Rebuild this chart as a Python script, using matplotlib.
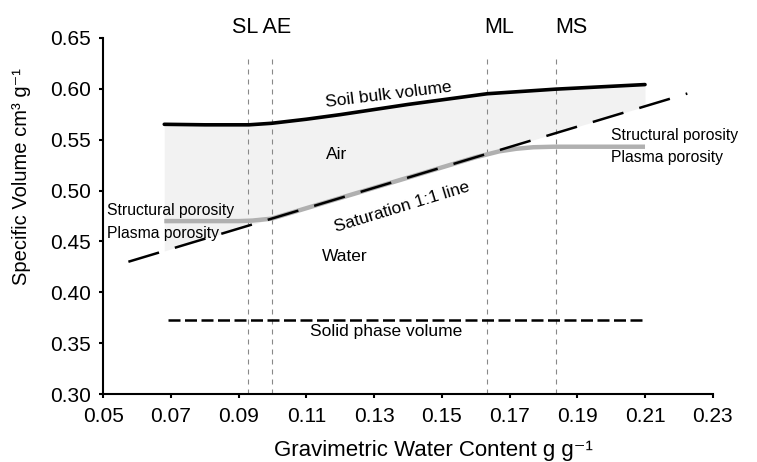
import numpy as np
import matplotlib
matplotlib.use("Agg")
import matplotlib.pyplot as plt

plt.rcParams['font.family'] = ['Liberation Sans', 'DejaVu Sans']

# 土の体積 (Soil bulk volume)
bulk_x = [0.068, 0.080, 0.093, 0.0997, 0.110, 0.120, 0.130, 0.140, 0.150, 0.1634, 0.1836, 0.210]
bulk_y = [0.5650, 0.5645, 0.5645, 0.5660, 0.5700, 0.5745, 0.5795, 0.5845, 0.5890, 0.5950, 0.5995, 0.6040]

# 固相体積
solid_volume = 0.3727
solid_x = [0.069, 0.2095]

# 飽和線 1:1
sat_x = [0.0574, 0.2225]

# 構造間隙 / プラズマ間隙の境界
pore_x = [0.068, 0.090, 0.094, 0.097, 0.0997, 0.120, 0.150, 0.160, 0.1634, 0.167, 0.172, 0.177, 0.183, 0.210]
pore_y = [0.4700, 0.4700, 0.4705, 0.4715, 0.4724, 0.4927, 0.5227, 0.5327, 0.5355, 0.5385, 0.5410, 0.5425, 0.5430, 0.5430]

# 特性点
marks = ['SL AE', 'ML', 'MS']
mark_label_x = [0.0967, 0.1669, 0.1883]
mark_x = [0.0926, 0.0997, 0.1634, 0.1836]

fig = plt.figure(figsize=(7.57, 4.62), dpi=100)
ax = fig.add_axes([0.1365, 0.1465, 0.805, 0.7719])

# 空気の領域 (bulk と飽和線の間)
fill_x = np.array(bulk_x)
ax.fill_between(fill_x, bulk_y, fill_x + solid_volume, color='#f2f2f2', lw=0, zorder=1)

# 特性点の縦線
for xv in mark_x:
    ax.plot([xv, xv], [0.30, 0.633], color='#888888', lw=0.8, dashes=(4.5, 4.5), zorder=2)

ax.plot(pore_x, pore_y, color='#b0b0b0', lw=3.2, solid_capstyle='butt', zorder=3)
sat_x = np.array(sat_x)
ax.plot(sat_x, sat_x + solid_volume, color='black', lw=1.8, dashes=(12.8, 6.6), zorder=4)
ax.plot(bulk_x, bulk_y, color='black', lw=2.6, solid_capstyle='round', zorder=5)
ax.plot(solid_x, [solid_volume, solid_volume], color='black', lw=1.8, dashes=(4.8, 1.8), zorder=4)

# ラベル
for name, xv in zip(marks, mark_label_x):
    ax.text(xv, 0.660, name, ha='center', va='center', fontsize=15.5, clip_on=False)

ax.text(0.1342, 0.5937, 'Soil bulk volume', ha='center', va='center', rotation=7, fontsize=12.5)
ax.text(0.1189, 0.535, 'Air', ha='center', va='center', fontsize=12.5)
ax.text(0.1383, 0.4837, 'Saturation 1:1 line', ha='center', va='center', rotation=17, fontsize=12.5)
ax.text(0.1214, 0.4355, 'Water', ha='center', va='center', fontsize=12.5)
ax.text(0.1334, 0.3615, 'Solid phase volume', ha='center', va='center', fontsize=12.5)

ax.text(0.0511, 0.4800, 'Structural porosity', ha='left', va='center', fontsize=11.3)
ax.text(0.0511, 0.4580, 'Plasma porosity', ha='left', va='center', fontsize=11.3)
ax.text(0.2000, 0.5545, 'Structural porosity', ha='left', va='center', fontsize=11.3, clip_on=False)
ax.text(0.2000, 0.5320, 'Plasma porosity', ha='left', va='center', fontsize=11.3, clip_on=False)

ax.set_xlim(0.05, 0.23)
ax.set_ylim(0.30, 0.65)
ax.set_xticks(np.arange(0.05, 0.2301, 0.02))
ax.set_yticks(np.arange(0.30, 0.6501, 0.05))
ax.xaxis.set_major_formatter(matplotlib.ticker.FormatStrFormatter('%.2f'))
ax.yaxis.set_major_formatter(matplotlib.ticker.FormatStrFormatter('%.2f'))
ax.tick_params(direction='out', length=3, width=1.5, labelsize=15, pad=6)
ax.spines['top'].set_visible(False)
ax.spines['right'].set_visible(False)
ax.spines['left'].set_linewidth(1.5)
ax.spines['bottom'].set_linewidth(1.5)

fig.text(0.572, 0.012, 'Gravimetric Water Content g g⁻¹', ha='center', va='baseline', fontsize=16)
fig.text(0.029, 0.618, 'Specific Volume cm³ g⁻¹', ha='center', va='center', rotation=90, fontsize=14.5)

fig.savefig('out.png', dpi=100)
